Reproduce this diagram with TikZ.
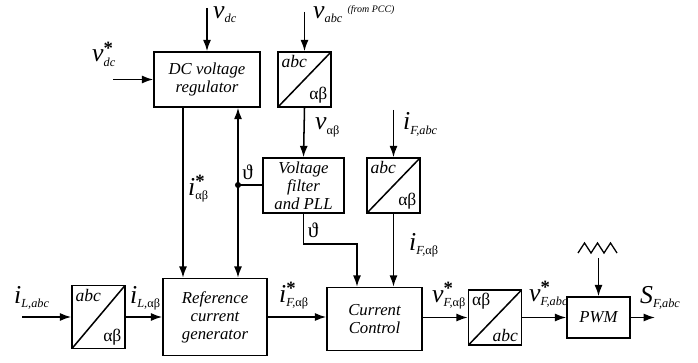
\documentclass[tikz,border=0pt]{standalone}
\usepackage{fontspec}
\setmainfont{Liberation Serif}
\usetikzlibrary{positioning,arrows.meta}
% signal name: letter, subscript, superscript
\newcommand{\sig}[3]{{\fontsize{22}{22}\selectfont\itshape #1}%
\rlap{\raisebox{6pt}{\fontsize{16}{16}\selectfont\bfseries #3}}%
\raisebox{-3.5pt}{\fontsize{10.5}{10.5}\selectfont\itshape #2}}
\tikzset{
    block/.style={
        draw,
        line width=1.3pt,
        align=center,
        font=\fontsize{14.3}{15.4}\selectfont\itshape,
        inner sep=0pt
    },
    conv/.style={
        draw,
        line width=1.3pt,
        minimum width=1.59cm,
        minimum height=1.65cm,
        inner sep=0pt,
        path picture={
            \draw[line width=1.3pt] (path picture bounding box.south west)
                -- (path picture bounding box.north east);
        }
    },
    convtxt/.style={inner sep=3.5pt, font=\fontsize{15}{16}\selectfont},
    lbl/.style={inner sep=0pt},
    wire/.style={line width=1.3pt},
    arrow/.style={-{Latex[length=3.4mm,width=2.4mm]}, line width=1.3pt}
}

\begin{document}
\begin{tikzpicture}
\useasboundingbox (0,0) rectangle (20.94,-10.89);

% Upper blocks
\node[block, minimum width=3.18cm, minimum height=1.65cm] (dcreg) at (6.21,-2.385)
{DC voltage\\regulator};
\node[conv] (abcv) at (9.135,-2.385) {};
\node[block, minimum width=2.43cm, minimum height=1.65cm] (vfilt) at (9.105,-5.565)
{Voltage\\filter\\and PLL};
\node[conv] (abci) at (11.805,-5.565) {};

% Lower row
\node[conv, minimum height=1.89cm] (abcl) at (2.955,-9.51) {};
\node[block, minimum width=3.12cm, minimum height=2.31cm] (refgen) at (6.45,-9.51)
{Reference\\current\\generator};
\node[block, minimum width=2.85cm, minimum height=1.89cm] (cc) at (11.235,-9.57)
{Current\\Control};
\node[conv] (abinv) at (14.85,-9.525) {};
\node[block, minimum width=1.89cm, minimum height=1.23cm] (pwm) at (17.955,-9.525)
{PWM};

% Transformation names
\node[convtxt, anchor=north west] (abcvin)  at (abcv.north west)  {\textit{abc}};
\node[convtxt, anchor=south east] (abcvout) at (abcv.south east)  {αβ};
\node[convtxt, anchor=north west] (abciin)  at (abci.north west)  {\textit{abc}};
\node[convtxt, anchor=south east] (abciout) at (abci.south east)  {αβ};
\node[convtxt, anchor=north west] (abclin)  at (abcl.north west)  {\textit{abc}};
\node[convtxt, anchor=south east] (abclout) at (abcl.south east)  {αβ};
\node[convtxt, anchor=north west] (abinvin)  at (abinv.north west) {αβ};
\node[convtxt, anchor=south east] (abinvout) at (abinv.south east) {\textit{abc}};

% Free ends
\coordinate (vdcin) at (6.21,-0.24);
\coordinate (vrefin) at (3.39,-2.385);
\coordinate (vabcin) at (9.135,-0.36);
\coordinate (ifin) at (11.805,-3.3);
\coordinate (ilin) at (0.66,-9.51);
\coordinate (sout) at (19.65,-9.525);
\coordinate (carrier) at (17.955,-7.74);
\coordinate (dot) at (7.14,-5.55);

% Connectors
\draw[arrow] (vdcin) -- (dcreg.north);
\draw[arrow] (vrefin) -- (dcreg.west);
\draw[arrow] (vabcin) -- (abcv.north);
\draw[arrow] (abcv.south) -- (vfilt.north);
\draw[arrow] ([xshift=-0.72cm]dcreg.south) -- ([xshift=-0.72cm]dcreg.south |- refgen.north);
\draw[arrow] (dot) -- (dot |- refgen.north);
\draw[arrow] (dot) -- (dot |- dcreg.south);
\draw[wire] (dot) -- (dot -| vfilt.west);
\fill (dot) circle (2.6pt);
\draw[arrow] (vfilt.south) -- ++(0,-0.9) -| ([xshift=-0.525cm]cc.north);
\draw[arrow] (ifin) -- (abci.north);
\draw[arrow] (abci.south) -- (abci.south |- cc.north);
\draw[arrow] (ilin) -- (abcl.west);
\draw[arrow] (abcl.east) -- (refgen.west);
\draw[arrow] (refgen.east) -- (refgen.east -| cc.west);
\draw[arrow] (cc.east |- abinv.west) -- (abinv.west);
\draw[arrow] (abinv.east) -- (pwm.west);
\draw[arrow] (pwm.east) -- (sout);
\draw[arrow] (carrier) -- (pwm.north);
\draw[line width=1.1pt] (17.34,-7.59) -- ++(0.195,0.3) -- ++(0.195,-0.3) -- ++(0.195,0.3)
    -- ++(0.195,-0.3) -- ++(0.195,0.3) -- ++(0.195,-0.3);

% Signal labels
\node[lbl, anchor=base west] (lvdc) at (6.39,-0.55) {\sig{v}{dc}{}};
\node[lbl, anchor=base west] (lvdcref) at (2.76,-1.86) {\sig{v}{dc}{*}};
\node[lbl, anchor=base west] (lvabc) at (9.39,-0.55) {\sig{v}{abc}{}};
\node[lbl, anchor=base west, font=\fontsize{8.5}{9}\selectfont\itshape] (lpcc) at (10.42,-0.38)
{(from PCC)};
\node[lbl, anchor=base west] (lvab) at (9.45,-3.9) {\sig{v}{\upshape αβ}{}};
\node[lbl, font=\fontsize{18}{18}\selectfont] (ltha) at (7.43,-5.16) {ϑ};
\node[lbl, anchor=base west] (liab) at (5.64,-5.85) {\sig{i}{\upshape αβ}{*}};
\node[lbl, font=\fontsize{18}{18}\selectfont] (lthb) at (9.39,-6.9) {ϑ};
\node[lbl, anchor=base west] (lifabc) at (12.09,-3.9) {\sig{i}{F,abc}{}};
\node[lbl, anchor=base west] (lifab) at (12.27,-7.5) {\sig{i}{F,\upshape αβ}{}};
\node[lbl, anchor=base west] (lilabc) at (0.42,-9.09) {\sig{i}{L,abc}{}};
\node[lbl, anchor=base west] (lilab) at (3.9,-9.09) {\sig{i}{L,\upshape αβ}{}};
\node[lbl, anchor=base west] (lifref) at (8.37,-9.06) {\sig{i}{F,\upshape αβ}{*}};
\node[lbl, anchor=base west] (lvfab) at (12.96,-9.06) {\sig{v}{F,\upshape αβ}{*}};
\node[lbl, anchor=base west] (lvfabc) at (15.87,-9.03) {\sig{v}{F,abc}{*}};
\node[lbl, anchor=base west] (lsf) at (19.2,-9.09) {\sig{S}{F,abc}{}};

\end{tikzpicture}
\end{document}
